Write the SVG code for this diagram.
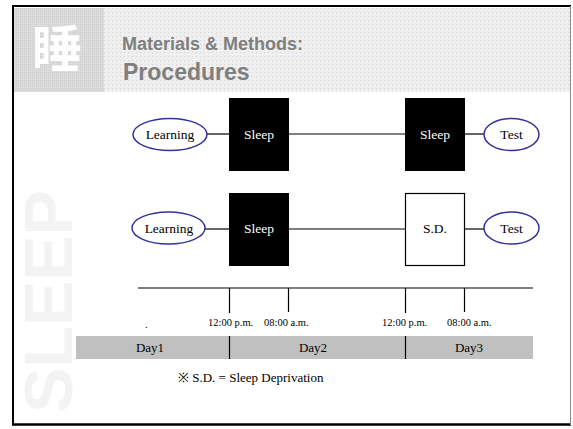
<svg xmlns="http://www.w3.org/2000/svg" width="573" height="429" viewBox="0 0 573 429">
<defs>
<pattern id="dots" width="4" height="4" patternUnits="userSpaceOnUse">
<rect width="4" height="4" fill="#eeeeee"/>
<rect x="0" y="0" width="1" height="1" fill="#d6d6d6"/>
<rect x="2" y="2" width="1" height="1" fill="#f8f8f8"/>
</pattern>
<pattern id="dots2" width="2" height="2" patternUnits="userSpaceOnUse">
<rect width="2" height="2" fill="#dcdcdc"/>
<rect x="0" y="0" width="1" height="1" fill="#cfcfcf"/>
</pattern>
<style>
.ser{font-family:"Liberation Serif","Times New Roman",serif;}
.lbl{font-size:13.5px;text-anchor:middle;}
.ell{fill:#fff;stroke:#333399;stroke-width:1.5;}
.blk{fill:#000;}
.conn{stroke:#000;stroke-width:1.2;fill:none;}
.time{font-size:10.5px;}
.day{font-size:13px;text-anchor:middle;}
</style>
</defs>
<rect x="0" y="0" width="573" height="429" fill="#fff"/>
<!-- header -->
<rect x="14" y="8" width="556" height="84" fill="url(#dots)"/>
<rect x="14" y="8" width="90" height="84" fill="url(#dots2)"/>
<text x="57" y="67" font-family="Noto Sans CJK SC, sans-serif" font-weight="bold" font-size="50" fill="#fff" text-anchor="middle">睡</text>
<text x="122" y="50" font-family="Liberation Sans, Arial, sans-serif" font-weight="bold" font-size="18" fill="#7f7f7f">Materials &amp; Methods:</text>
<text x="123" y="80" font-family="Liberation Sans, Arial, sans-serif" font-weight="bold" font-size="23" fill="#7f7f7f">Procedures</text>
<!-- watermark -->
<text transform="translate(72,413) rotate(-90)" font-family="Liberation Sans, Arial, sans-serif" font-weight="bold" font-size="68" fill="#f3f3f3">SLEEP</text>
<!-- frame -->
<line x1="13" y1="6" x2="13" y2="425" stroke="#000" stroke-width="2"/>
<line x1="12" y1="6" x2="571" y2="6" stroke="#000" stroke-width="2"/>
<line x1="12" y1="424.5" x2="571" y2="424.5" stroke="#000" stroke-width="2.5"/>
<line x1="570.5" y1="6" x2="570.5" y2="425" stroke="#888" stroke-width="1"/>
<!-- connectors -->
<g id="connectors">
<line class="conn" x1="207" y1="134" x2="229" y2="134"/>
<line class="conn" x1="289" y1="134" x2="405" y2="134"/>
<line class="conn" x1="465" y1="134" x2="484" y2="134"/>
<line class="conn" x1="205" y1="229" x2="229" y2="229"/>
<line class="conn" x1="289" y1="229" x2="405" y2="229"/>
<line class="conn" x1="465" y1="229" x2="484" y2="229"/>
</g>
<!-- row 1 -->
<g id="learning1"><ellipse class="ell" cx="170" cy="134.5" rx="37" ry="16"/><text class="ser lbl" x="170" y="139">Learning</text></g>
<g id="sleep1"><rect class="blk" x="229" y="98" width="60" height="73"/><text class="ser lbl" x="259" y="139" fill="#fff">Sleep</text></g>
<g id="sleep2"><rect class="blk" x="405" y="98" width="60" height="73"/><text class="ser lbl" x="435" y="139" fill="#fff">Sleep</text></g>
<g id="test1"><ellipse class="ell" cx="511.5" cy="134.5" rx="27.5" ry="16"/><text class="ser lbl" x="511.5" y="139">Test</text></g>
<!-- row 2 -->
<g id="learning2"><ellipse class="ell" cx="168.5" cy="228" rx="36.5" ry="16"/><text class="ser lbl" x="169" y="233">Learning</text></g>
<g id="sleep3"><rect class="blk" x="229" y="193" width="60" height="73"/><text class="ser lbl" x="259" y="233" fill="#fff">Sleep</text></g>
<g id="sd"><rect x="405.5" y="193.5" width="59" height="72" fill="#fff" stroke="#000" stroke-width="1.2"/><text class="ser lbl" x="435" y="233">S.D.</text></g>
<g id="test2"><ellipse class="ell" cx="511.5" cy="228" rx="27.5" ry="16"/><text class="ser lbl" x="511.5" y="233">Test</text></g>
<!-- timeline -->
<g id="timeline">
<line class="conn" x1="138" y1="288" x2="533" y2="288"/>
<line class="conn" x1="229.5" y1="288" x2="229.5" y2="313"/>
<line class="conn" x1="288.5" y1="288" x2="288.5" y2="312"/>
<line class="conn" x1="405.5" y1="288" x2="405.5" y2="313"/>
<line class="conn" x1="464.5" y1="288" x2="464.5" y2="312"/>
<text class="ser time" x="145" y="328">.</text>
<text class="ser time" x="208" y="326">12:00 p.m.</text>
<text class="ser time" x="264" y="326">08:00 a.m.</text>
<text class="ser time" x="382" y="326">12:00 p.m.</text>
<text class="ser time" x="447" y="326">08:00 a.m.</text>
</g>
<g id="days">
<rect x="76" y="336" width="457" height="23" fill="#c0c0c0"/>
<line class="conn" x1="229.5" y1="336" x2="229.5" y2="359"/>
<line class="conn" x1="405.5" y1="336" x2="405.5" y2="359"/>
<text class="ser day" x="150" y="352">Day1</text>
<text class="ser day" x="313" y="352">Day2</text>
<text class="ser day" x="469" y="352">Day3</text>
</g>
<text class="ser" x="178" y="382" font-size="13">※ S.D. = Sleep Deprivation</text>
</svg>
